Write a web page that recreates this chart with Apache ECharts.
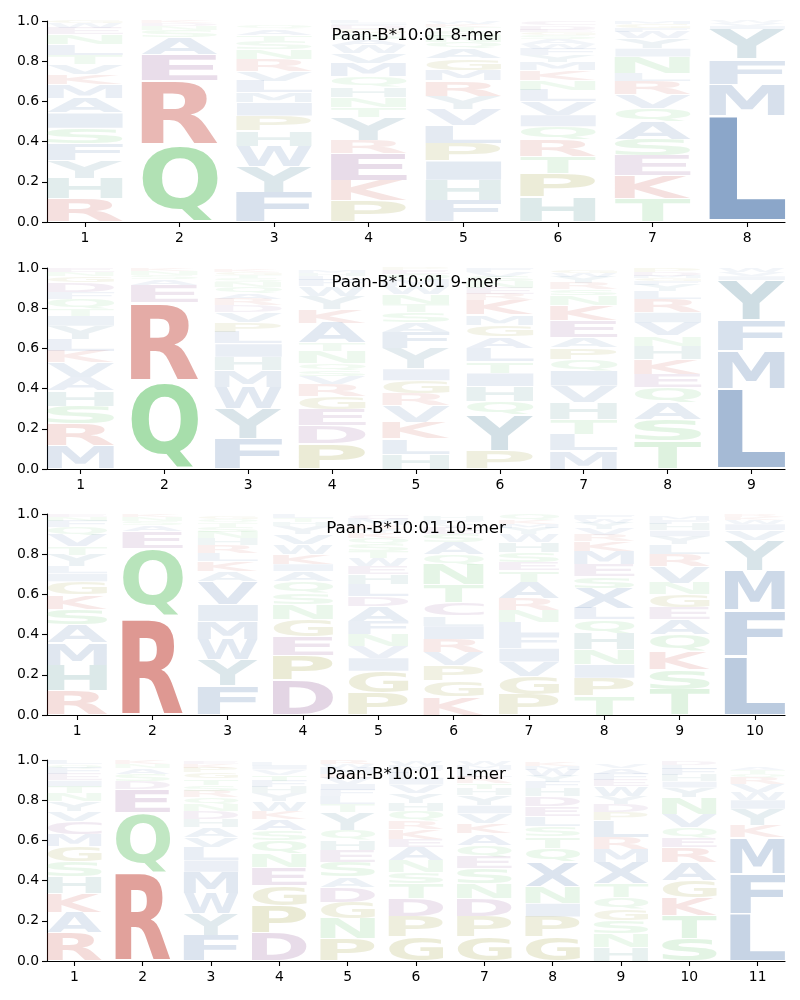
<!DOCTYPE html>
<html><head><meta charset="utf-8">
<script src="https://cdn.jsdelivr.net/npm/echarts@6/dist/echarts.min.js"></script>
<style>html,body{margin:0;padding:0;background:#fff}#c{width:800px;height:1000px}</style>
</head><body><div id="c"></div>
<script>
// ---------- DATA ----------
const titles = ['Paan-B*10:01 8-mer','Paan-B*10:01 9-mer','Paan-B*10:01 10-mer','Paan-B*10:01 11-mer'];

// each position: letters stacked from bottom to top, [letter, probability]
const mer8 = [
  [['R',.116],['H',.10],['Y',.09],['F',.083],['S',.078],['I',.075],['A',.075],['M',.066],['K',.05],['V',.05],['T',.045],['L',.055],['N',.05],['E',.03],['W',.025],['G',.015]],
  [['Q',.385],['R',.32],['E',.13],['A',.085],['S',.035],['N',.02],['D',.015],['K',.01]],
  [['F',.148],['Y',.13],['W',.10],['H',.075],['P',.075],['I',.066],['M',.05],['L',.058],['V',.05],['R',.058],['N',.05],['S',.04],['T',.03],['A',.03],['Q',.02]],
  [['P',.106],['K',.10],['E',.135],['R',.066],['Y',.116],['T',.05],['N',.05],['H',.05],['Q',.05],['M',.065],['V',.05],['W',.04],['A',.03],['S',.03],['G',.02],['D',.02],['I',.01],['L',.01]],
  [['F',.108],['H',.10],['I',.095],['P',.09],['L',.09],['V',.078],['Y',.066],['R',.076],['M',.053],['G',.058],['A',.05],['Q',.03],['N',.03],['S',.025],['T',.02],['K',.015],['W',.015]],
  [['H',.123],['P',.12],['T',.083],['R',.083],['Q',.066],['I',.058],['V',.066],['L',.058],['N',.05],['K',.05],['M',.04],['Y',.035],['F',.03],['W',.025],['A',.025],['S',.02],['G',.015],['E',.01],['D',.02],['C',.02]],
  [['T',.115],['K',.114],['E',.10],['S',.083],['A',.09],['Q',.066],['V',.066],['R',.066],['L',.04],['N',.083],['I',.04],['Y',.05],['W',.03],['F',.02],['G',.02],['M',.015]],
  [['L',.53],['M',.155],['F',.125],['Y',.15],['I',.015],['V',.015],['W',.01]]
];
const mer9 = [
  [['M',.116],['R',.108],['S',.09],['H',.075],['A',.066],['V',.075],['K',.058],['L',.058],['Y',.066],['I',.05],['T',.033],['Q',.05],['F',.033],['D',.05],['G',.03],['N',.02],['E',.02]],
  [['Q',.44],['R',.39],['E',.086],['A',.03],['S',.02],['N',.02],['K',.014]],
  [['F',.15],['Y',.15],['W',.108],['M',.083],['H',.066],['I',.066],['L',.058],['P',.05],['V',.05],['D',.033],['R',.033],['A',.03],['Q',.03],['N',.025],['S',.02],['T',.015],['G',.015],['K',.01]],
  [['P',.125],['D',.09],['E',.083],['G',.066],['R',.058],['V',.04],['S',.03],['Q',.036],['N',.058],['T',.04],['A',.10],['K',.066],['Y',.066],['W',.05],['F',.03],['L',.02],['H',.015],['M',.015]],
  [['H',.075],['L',.075],['K',.083],['V',.083],['R',.058],['G',.066],['I',.058],['Y',.10],['F',.083],['A',.05],['S',.05],['T',.04],['N',.05],['W',.04],['M',.03],['Q',.03],['E',.02],['P',.01]],
  [['P',.09],['Y',.18],['Q',.066],['H',.075],['I',.066],['T',.058],['L',.066],['A',.058],['G',.058],['M',.05],['K',.075],['R',.03],['E',.03],['N',.03],['S',.025],['V',.025],['F',.02]],
  [['M',.09],['L',.083],['T',.075],['H',.083],['V',.083],['I',.075],['Q',.058],['P',.058],['A',.05],['E',.083],['K',.075],['N',.05],['S',.03],['R',.03],['Y',.03],['W',.02],['G',.015]],
  [['T',.14],['S',.108],['A',.083],['Q',.075],['E',.066],['K',.075],['H',.066],['N',.05],['V',.066],['I',.05],['R',.066],['L',.04],['Y',.03],['F',.02],['G',.015],['M',.01],['D',.02],['P',.02]],
  [['L',.40],['M',.19],['F',.15],['Y',.20],['I',.02],['V',.02],['W',.02]]
];
const mer10 = [
  [['R',.122],['H',.126],['M',.11],['A',.09],['S',.08],['K',.07],['G',.066],['I',.04],['L',.035],['Y',.058],['T',.04],['V',.058],['Q',.04],['F',.03],['N',.02],['E',.015]],
  [['R',.487],['Q',.344],['E',.083],['A',.03],['S',.02],['N',.02],['K',.016]],
  [['F',.144],['Y',.132],['W',.10],['M',.09],['I',.083],['V',.116],['A',.05],['K',.05],['L',.04],['R',.04],['H',.035],['N',.03],['S',.025],['T',.02],['Q',.02],['G',.015]],
  [['D',.172],['P',.126],['E',.094],['G',.083],['N',.075],['S',.058],['Q',.058],['A',.05],['I',.035],['K',.05],['W',.05],['V',.05],['Y',.04],['H',.02],['T',.02],['L',.02]],
  [['P',.11],['G',.108],['I',.066],['V',.058],['N',.058],['F',.066],['A',.075],['D',.05],['L',.058],['H',.05],['E',.04],['W',.04],['T',.035],['S',.035],['Q',.03],['K',.025],['Y',.02],['R',.02],['M',.03],['C',.02]],
  [['K',.09],['G',.08],['P',.075],['V',.066],['R',.066],['I',.066],['L',.05],['C',.066],['T',.09],['N',.10],['Q',.05],['A',.06],['S',.04],['E',.03],['Y',.02],['F',.02],['H',.02]],
  [['P',.10],['G',.09],['V',.075],['I',.066],['F',.066],['L',.066],['N',.058],['R',.058],['A',.083],['T',.058],['E',.04],['S',.05],['H',.05],['W',.04],['Y',.03],['M',.02],['K',.02],['Q',.03]],
  [['T',.094],['P',.09],['I',.066],['N',.075],['H',.083],['Q',.066],['L',.058],['X',.10],['S',.058],['E',.058],['M',.066],['K',.05],['R',.03],['V',.03],['Y',.03],['W',.02],['F',.02]],
  [['T',.127],['S',.10],['K',.09],['Q',.083],['A',.075],['E',.058],['G',.066],['N',.058],['V',.083],['R',.058],['L',.05],['Y',.04],['I',.03],['H',.03],['F',.02],['M',.02]],
  [['L',.293],['F',.227],['M',.20],['Y',.15],['V',.05],['I',.03],['W',.02],['K',.015],['R',.01]]
];
const mer11 = [
  [['R',.14],['A',.10],['K',.096],['H',.083],['S',.075],['G',.075],['M',.058],['C',.066],['V',.05],['Y',.05],['N',.04],['T',.035],['I',.03],['E',.03],['F',.03],['Q',.02],['L',.02]],
  [['R',.44],['Q',.30],['E',.116],['D',.04],['S',.035],['A',.03],['N',.02],['K',.019]],
  [['F',.127],['Y',.108],['W',.10],['M',.108],['I',.058],['L',.066],['V',.05],['A',.05],['H',.04],['D',.04],['N',.035],['Q',.035],['R',.03],['S',.03],['T',.03],['G',.03],['P',.025],['K',.02],['E',.015]],
  [['D',.14],['P',.137],['G',.10],['E',.09],['N',.066],['Q',.066],['S',.05],['A',.058],['K',.04],['W',.05],['Y',.04],['H',.03],['F',.03],['T',.03],['V',.025],['I',.02],['L',.02]],
  [['P',.11],['N',.10],['G',.083],['D',.075],['A',.05],['S',.075],['E',.058],['H',.05],['Q',.05],['Y',.09],['T',.04],['L',.04],['F',.03],['I',.03],['V',.03],['K',.02],['M',.03],['W',.02],['R',.02]],
  [['G',.12],['P',.10],['D',.09],['T',.075],['S',.058],['N',.058],['A',.066],['E',.04],['K',.05],['R',.04],['Q',.05],['H',.04],['Y',.05],['V',.04],['I',.03],['L',.03],['F',.02],['M',.02],['W',.02]],
  [['G',.12],['P',.10],['D',.09],['N',.075],['S',.075],['E',.058],['Q',.058],['A',.058],['K',.05],['V',.05],['I',.04],['Y',.05],['H',.03],['T',.03],['R',.03],['L',.02],['F',.02],['M',.02],['W',.02]],
  [['G',.12],['P',.10],['I',.066],['N',.083],['X',.125],['Q',.066],['T',.058],['S',.05],['L',.05],['E',.05],['D',.05],['H',.04],['F',.03],['Y',.03],['W',.03],['M',.02],['K',.02]],
  [['H',.07],['N',.066],['S',.066],['G',.058],['Q',.058],['T',.066],['X',.108],['M',.066],['R',.058],['L',.083],['P',.04],['D',.04],['Y',.04],['W',.05],['E',.03],['F',.03],['A',.03],['V',.02]],
  [['S',.11],['T',.116],['K',.09],['G',.083],['A',.09],['R',.075],['E',.05],['Q',.05],['V',.066],['N',.083],['Y',.05],['I',.03],['H',.03],['F',.03],['L',.02],['D',.02]],
  [['L',.235],['F',.20],['M',.18],['K',.058],['Y',.083],['I',.045],['W',.04],['V',.04],['R',.03],['Q',.02],['T',.02],['A',.015]]
];
const panels = [mer8, mer9, mer10, mer11];

// ---------- STYLE ----------
const GROUP_RGB = {blue:[40,90,155], red:[190,50,38], green:[63,182,71], purple:[120,50,125], olive:[128,128,0], teal:[40,120,118], slate:[45,108,135]};
const LETTER_GROUP = {A:'blue',C:'purple',D:'purple',E:'purple',F:'blue',G:'olive',H:'teal',I:'blue',K:'red',L:'blue',M:'blue',N:'green',P:'olive',Q:'green',R:'red',S:'green',T:'green',V:'blue',W:'blue',X:'blue',Y:'slate'};
const LETTERS = 'ACDEFGHIKLMNPQRSTVWXY';
const FONT = 'bold 100px "DejaVu Sans"';
const VPAD = 0.05, LW = 0.8;
const gridTops = [21, 268, 514, 760], gridH = 201, gridL = 47, gridW = 738;
const TXT = {fontFamily:'DejaVu Sans', color:'#000'};

const mctx = document.createElement('canvas').getContext('2d');
const gcache = {};
function glyph(ch){
  if (gcache[ch]) return gcache[ch];
  mctx.font = FONT; mctx.textAlign = 'center'; mctx.textBaseline = 'middle';
  const m = mctx.measureText(ch);
  return gcache[ch] = {L:m.actualBoundingBoxLeft, R:m.actualBoundingBoxRight, A:m.actualBoundingBoxAscent, D:m.actualBoundingBoxDescent};
}

function renderItem(params, api){
  const pos = api.value(0), y0 = api.value(1), y1 = api.value(2);
  const ch = LETTERS[api.value(3)];
  const h = y1 - y0, pad = VPAD*h/2;
  const tl = api.coord([pos - LW/2, y1 - pad]);
  const br = api.coord([pos + LW/2, y0 + pad]);
  const w = br[0]-tl[0], hh = br[1]-tl[1];
  if (hh < 0.2) return null;
  const g = glyph(ch);
  const sx = w/(g.L+g.R), sy = hh/(g.A+g.D);
  const rgb = GROUP_RGB[LETTER_GROUP[ch]];
  const a = Math.min(1, 0.04 + 0.95*h);
  return {
    type:'text', silent:true,
    x: tl[0] + g.L*sx, y: tl[1] + g.A*sy, scaleX: sx, scaleY: sy,
    style:{text:ch, font:FONT, fill:'rgba('+rgb.join(',')+','+a.toFixed(3)+')', align:'center', verticalAlign:'middle'}
  };
}

const grid = [], xAxis = [], yAxis = [], series = [], title = [];
panels.forEach((cols, i) => {
  const n = cols.length;
  const ticks = cols.map((c, k) => k+1);
  grid.push({left:gridL, top:gridTops[i], width:gridW, height:gridH, containLabel:false});
  title.push({text:titles[i], left:gridL+gridW/2, top:gridTops[i]+6, textAlign:'center', padding:0,
    textStyle:{fontFamily:'DejaVu Sans', fontWeight:'normal', fontSize:16.7, color:'#000'}});
  xAxis.push({gridIndex:i, type:'value', min:0.6, max:n+0.4,
    axisLine:{show:true, onZero:false, lineStyle:{color:'#000', width:1.1}},
    axisTick:{show:true, customValues:ticks, length:5, lineStyle:{color:'#000', width:1.1}},
    axisLabel:{customValues:ticks, fontSize:13.9, margin:9, formatter:v=>String(v), ...TXT},
    splitLine:{show:false}});
  yAxis.push({gridIndex:i, type:'value', min:0, max:1, interval:0.2,
    axisLine:{show:true, onZero:false, lineStyle:{color:'#000', width:1.1}},
    axisTick:{show:true, length:5, lineStyle:{color:'#000', width:1.1}},
    axisLabel:{fontSize:13.9, margin:8, formatter:v=>v.toFixed(1), ...TXT},
    splitLine:{show:false}});
  const data = [];
  cols.forEach((stack, k) => {
    let base = 0;
    stack.forEach(([ch, p]) => {
      data.push([k+1, base, base+p, LETTERS.indexOf(ch)]);
      base += p;
    });
  });
  series.push({type:'custom', xAxisIndex:i, yAxisIndex:i, renderItem, data, clip:false, silent:true,
    encode:{x:0, y:[1,2]}, animation:false});
});

const chart = echarts.init(document.getElementById('c'), null, {renderer:'canvas'});
chart.setOption({backgroundColor:'#fff', animation:false, title, grid, xAxis, yAxis, series});
</script></body></html>
